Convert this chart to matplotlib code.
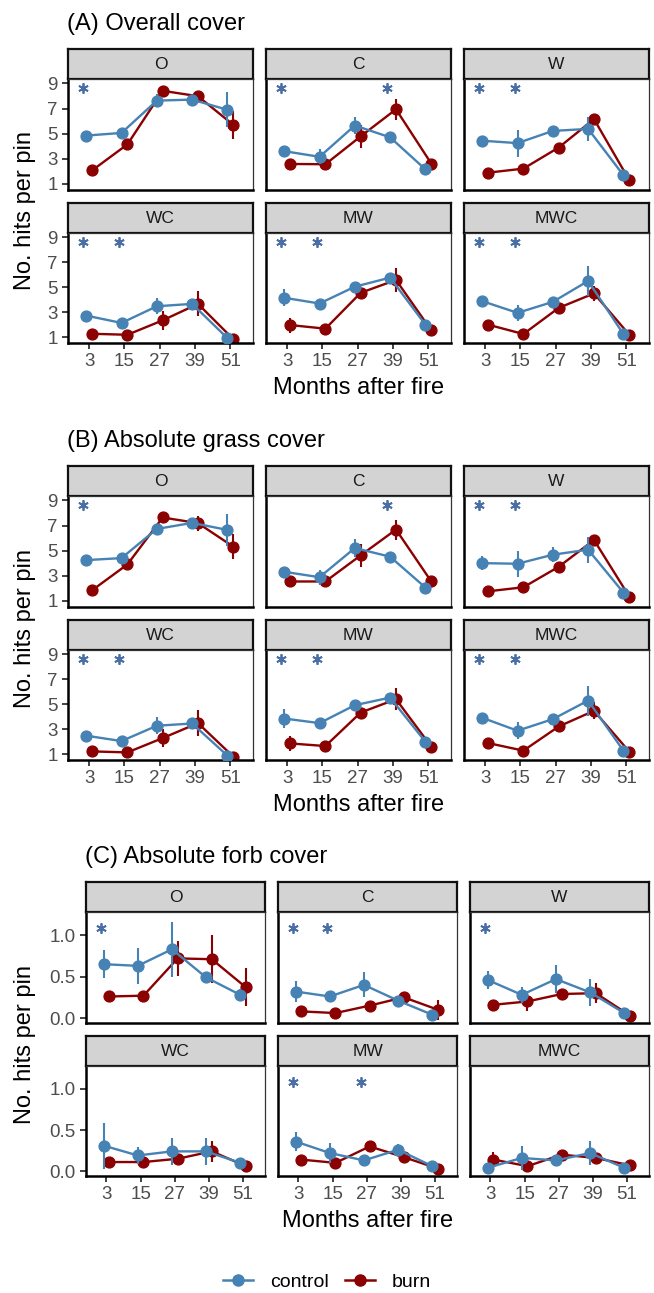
import numpy as np
import matplotlib.pyplot as plt
from matplotlib.lines import Line2D

plt.rcParams['font.family'] = ['Liberation Sans', 'DejaVu Sans']

facets = ['O', 'C', 'W', 'WC', 'MW', 'MWC']
months = [3, 15, 27, 39, 51]

# (A) overall cover
overall_control = [[4.85, 5.06, 7.63, 7.71, 6.90],
                   [3.61, 3.16, 5.65, 4.71, 2.16],
                   [4.44, 4.25, 5.22, 5.38, 1.70],
                   [2.72, 2.13, 3.47, 3.66, 0.91],
                   [4.15, 3.69, 5.04, 5.77, 1.99],
                   [3.88, 2.94, 3.82, 5.50, 1.24]]
overall_control_se = [[0.15, 0.2, 0.5, 0.3, 1.4],
                      [0.2, 0.6, 0.65, 0.2, 0.2],
                      [0.4, 1.07, 0.3, 0.95, 0.2],
                      [0.2, 0.2, 0.65, 0.3, 0.1],
                      [0.7, 0.2, 0.3, 0.3, 0.2],
                      [0.2, 0.67, 0.3, 1.2, 0.1]]
overall_burn = [[2.08, 4.15, 8.41, 7.98, 5.70],
                [2.59, 2.57, 4.79, 6.94, 2.62],
                [1.90, 2.22, 3.90, 6.16, 1.30],
                [1.26, 1.18, 2.34, 3.66, 0.83],
                [1.96, 1.67, 4.55, 5.58, 1.53],
                [1.99, 1.24, 3.34, 4.50, 1.18]]
overall_burn_se = [[0.2, 0.3, 0.3, 0.3, 1.1],
                   [0.2, 0.2, 0.9, 0.85, 0.2],
                   [0.15, 0.2, 0.2, 0.3, 0.15],
                   [0.1, 0.1, 0.75, 1.0, 0.1],
                   [0.6, 0.2, 0.3, 1.0, 0.2],
                   [0.2, 0.2, 0.3, 0.6, 0.1]]
overall_stars = [[3], [3, 39], [3, 15], [3, 15], [3, 15], [3, 15]]

# (B) absolute grass cover
grass_control = [[4.25, 4.41, 6.73, 7.21, 6.65],
                 [3.32, 2.89, 5.21, 4.52, 2.07],
                 [4.01, 3.96, 4.68, 5.08, 1.67],
                 [2.47, 2.04, 3.27, 3.45, 0.87],
                 [3.85, 3.48, 4.92, 5.53, 1.99],
                 [3.91, 2.87, 3.80, 5.29, 1.27]]
grass_control_se = [[0.2, 0.2, 0.2, 0.3, 1.3],
                    [0.2, 0.6, 0.73, 0.2, 0.2],
                    [0.55, 1.03, 0.6, 1.03, 0.2],
                    [0.2, 0.2, 0.7, 0.3, 0.1],
                    [0.8, 0.2, 0.3, 0.3, 0.2],
                    [0.2, 0.67, 0.3, 1.2, 0.1]]
grass_burn = [[1.85, 3.91, 7.64, 7.19, 5.32],
              [2.55, 2.55, 4.63, 6.68, 2.55],
              [1.77, 2.09, 3.72, 5.85, 1.35],
              [1.21, 1.13, 2.28, 3.48, 0.79],
              [1.85, 1.64, 4.33, 5.40, 1.59],
              [1.88, 1.27, 3.21, 4.47, 1.19]]
grass_burn_se = [[0.15, 0.3, 0.3, 0.6, 1.0],
                 [0.2, 0.2, 0.9, 0.8, 0.2],
                 [0.15, 0.2, 0.2, 0.3, 0.15],
                 [0.1, 0.1, 0.73, 1.07, 0.1],
                 [0.57, 0.2, 0.3, 0.9, 0.2],
                 [0.2, 0.2, 0.3, 0.67, 0.1]]
grass_stars = [[3], [39], [3, 15], [3, 15], [3, 15], [3, 15]]

# (C) absolute forb cover
forb_control = [[0.65, 0.63, 0.83, 0.49, 0.28],
                [0.32, 0.26, 0.40, 0.21, 0.04],
                [0.46, 0.28, 0.47, 0.31, 0.06],
                [0.31, 0.19, 0.24, 0.24, 0.10],
                [0.36, 0.22, 0.13, 0.26, 0.06],
                [0.04, 0.16, 0.13, 0.22, 0.04]]
forb_control_se = [[0.17, 0.22, 0.33, 0.03, 0.07],
                   [0.13, 0.03, 0.15, 0.03, 0.02],
                   [0.11, 0.1, 0.17, 0.16, 0.02],
                   [0.28, 0.1, 0.16, 0.16, 0.02],
                   [0.12, 0.12, 0.02, 0.07, 0.02],
                   [0.02, 0.15, 0.02, 0.15, 0.02]]
forb_burn = [[0.26, 0.27, 0.72, 0.71, 0.37],
             [0.08, 0.06, 0.15, 0.25, 0.10],
             [0.16, 0.20, 0.29, 0.30, 0.03],
             [0.11, 0.11, 0.15, 0.24, 0.06],
             [0.14, 0.10, 0.30, 0.17, 0.03],
             [0.14, 0.06, 0.20, 0.16, 0.07]]
forb_burn_se = [[0.03, 0.03, 0.21, 0.29, 0.23],
                [0.02, 0.02, 0.03, 0.03, 0.12],
                [0.02, 0.11, 0.03, 0.12, 0.02],
                [0.03, 0.03, 0.03, 0.13, 0.02],
                [0.02, 0.02, 0.03, 0.03, 0.02],
                [0.09, 0.02, 0.03, 0.03, 0.02]]
forb_stars = [[3], [3, 15], [3], [], [3, 27], []]

col_control = '#4682B4'
col_burn = '#8B0000'
col_star = '#4A6FA5'

W, H = 654, 1293
fig = plt.figure(figsize=(W / 100, H / 100), dpi=100)


def px_axes(x0, y0, x1, y1):
    return fig.add_axes([x0 / W, 1 - y1 / H, (x1 - x0) / W, (y1 - y0) / H])


def section(top, left, title, ctrl, ctrl_se, burn, burn_se, stars,
            ylim, yticks, yticklabels, star_y):
    gap = 13
    pw = (649 - left - 2 * gap) / 3
    fig.text((left - 1) / W, 1 - (top + 24) / H, title, fontsize=17,
             va='center', ha='left')
    rows = [(top + 49, top + 79, top + 190), (top + 203, top + 233, top + 343)]
    m = np.array(months)
    for i, fac in enumerate(facets):
        r, c = divmod(i, 3)
        s0, s1, p1 = rows[r]
        x0 = left + c * (pw + gap)
        x1 = x0 + pw
        # strip
        sa = px_axes(x0, s0, x1, s1)
        sa.set_facecolor('#D3D3D3')
        sa.set_xticks([])
        sa.set_yticks([])
        for sp in sa.spines.values():
            sp.set_linewidth(1.6)
            sp.set_color('#111111')
        sa.text(0.5, 0.47, fac, ha='center', va='center', fontsize=12.5,
                color='#1A1A1A', transform=sa.transAxes)
        # panel
        ax = px_axes(x0, s1, x1, p1)
        ax.errorbar(m - 1.0, ctrl[i], yerr=ctrl_se[i], color=col_control,
                    lw=1.7, marker='o', ms=7.8, elinewidth=1.5, capsize=0,
                    zorder=3)
        ax.errorbar(m + 1.0, burn[i], yerr=burn_se[i], color=col_burn,
                    lw=1.7, marker='o', ms=7.8, elinewidth=1.5, capsize=0,
                    zorder=2)
        if stars[i]:
            ax.plot(np.array(stars[i]) - 2.0, [star_y] * len(stars[i]),
                    linestyle='none', marker=(6, 2, 0), ms=7.5, mew=1.3,
                    color=col_star, zorder=4)
        ax.set_xlim(-4.2, 58.7)
        ax.set_ylim(*ylim)
        ax.spines['left'].set_linewidth(1.8)
        ax.spines['bottom'].set_linewidth(1.8)
        ax.spines['left'].set_color('black')
        ax.spines['bottom'].set_color('black')
        ax.spines['top'].set_linewidth(0.9)
        ax.spines['right'].set_linewidth(0.9)
        ax.spines['top'].set_color('#333333')
        ax.spines['right'].set_color('#333333')
        ax.tick_params(length=4.5, width=1.3, color='#333333',
                       labelcolor='#4D4D4D', labelsize=13.5, pad=3)
        if r == 1:
            ax.set_xticks(months)
            ax.set_xticklabels([str(v) for v in months])
        else:
            ax.set_xticks([])
        if c == 0:
            ax.set_yticks(yticks)
            ax.set_yticklabels(yticklabels)
        else:
            ax.set_yticks([])
    mid = left + 1.5 * pw + gap
    fig.text(mid / W, 1 - (top + 388) / H, 'Months after fire', fontsize=17,
             ha='center', va='center')
    fig.text(25 / W, 1 - (top + 211) / H, 'No. hits per pin', fontsize=17,
             rotation=90, ha='center', va='center')


section(0, 68, '(A) Overall cover', overall_control, overall_control_se,
        overall_burn, overall_burn_se, overall_stars,
        (0.52, 9.35), [1, 3, 5, 7, 9], ['1', '3', '5', '7', '9'], 8.6)
section(417, 68, '(B) Absolute grass cover', grass_control, grass_control_se,
        grass_burn, grass_burn_se, grass_stars,
        (0.52, 9.35), [1, 3, 5, 7, 9], ['1', '3', '5', '7', '9'], 8.6)
section(833, 86, '(C) Absolute forb cover', forb_control, forb_control_se,
        forb_burn, forb_burn_se, forb_stars,
        (-0.06, 1.28), [0, 0.5, 1.0], ['0.0', '0.5', '1.0'], 1.09)

handles = [Line2D([], [], color=col_control, marker='o', ms=8, lw=1.8),
           Line2D([], [], color=col_burn, marker='o', ms=8, lw=1.8)]
fig.legend(handles, ['control', 'burn'], loc='center', ncol=2,
           bbox_to_anchor=(0.5, 1 - 1282 / H), frameon=False, fontsize=14,
           handlelength=1.55, handletextpad=0.9, columnspacing=0.8)

fig.savefig('out.png', dpi=100)
